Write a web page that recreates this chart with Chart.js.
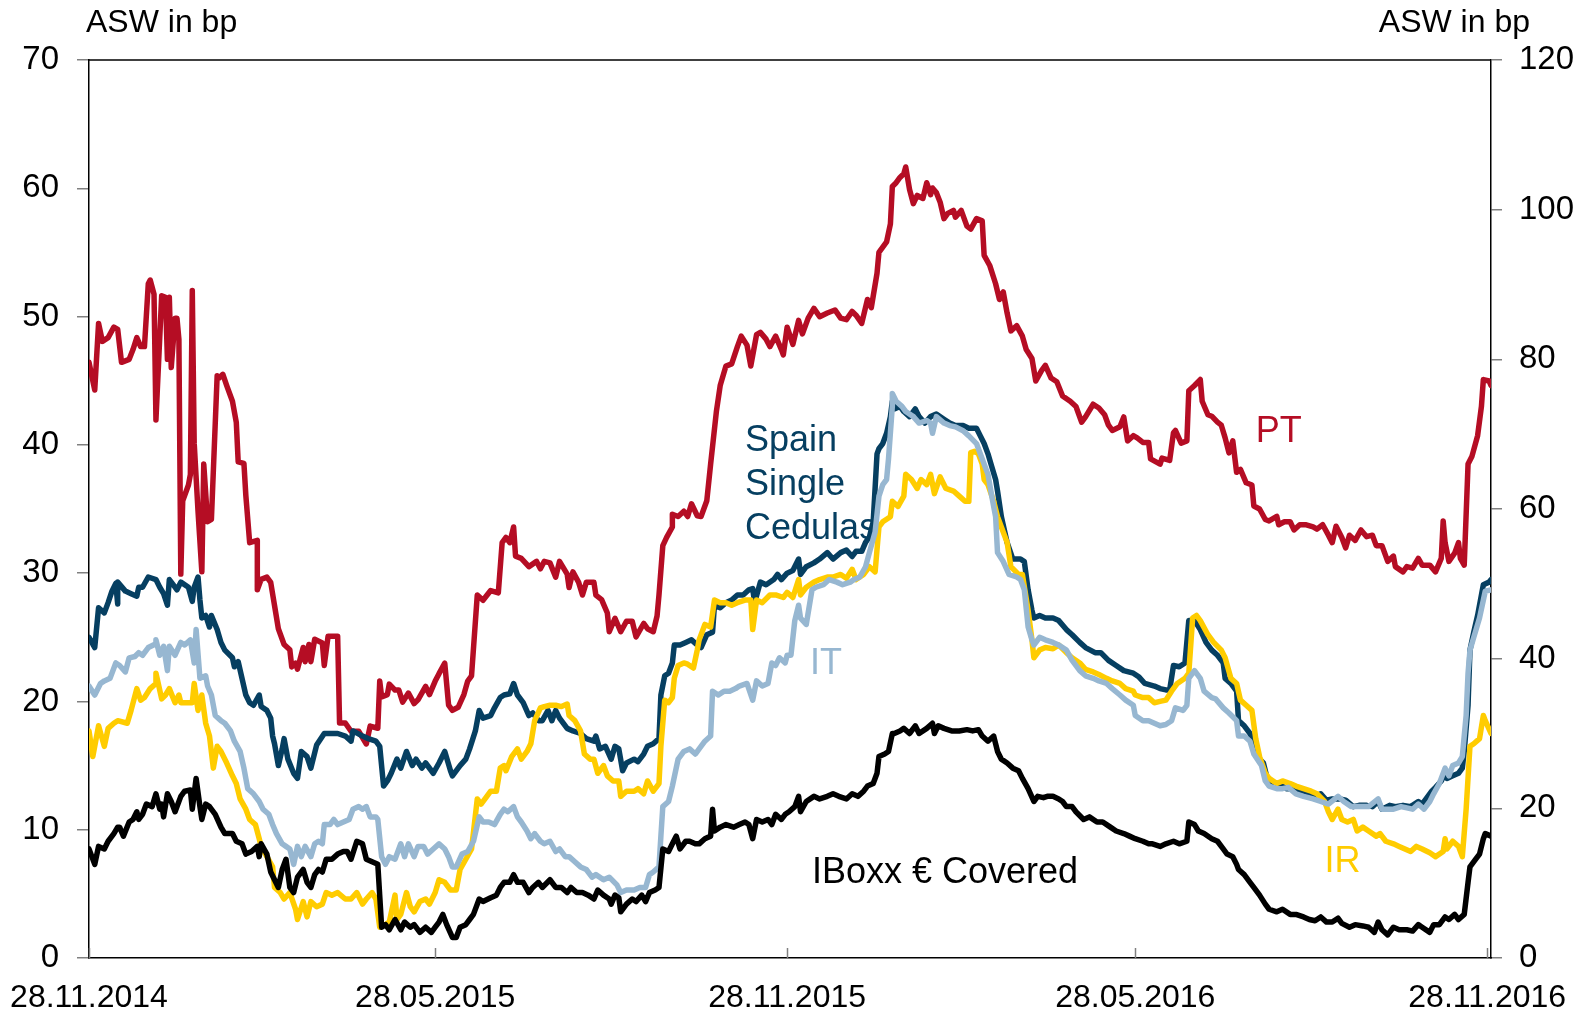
<!DOCTYPE html>
<html>
<head>
<meta charset="utf-8">
<title>ASW in bp</title>
<script src="https://cdn.jsdelivr.net/npm/chart.js@4.4.1/dist/chart.umd.min.js"></script>
<style>
  html, body { margin: 0; padding: 0; background: #fff; }
  #wrap { width: 1585px; height: 1016px; }
</style>
</head>
<body>
<div id="wrap"><canvas id="aswChart" width="1585" height="1016"></canvas></div>
<script>
// x values are days after 28.11.2014
const xTickLabels = ["28.11.2014", "28.05.2015", "28.11.2015", "28.05.2016", "28.11.2016"];
const xTickDays = [0, 181, 365, 547, 731];
const leftTicks = [0, 10, 20, 30, 40, 50, 60, 70];
const rightTicks = [0, 20, 40, 60, 80, 100, 120];

// PT, right axis
const ptSeries = [[0,79.6],[3,75.9],[5,84.8],[7,82.4],[10,82.9],[13,84.3],[15,84],[17,79.6],[21,80],[23,81.3],[25,82.9],[27,81.7],[29,81.7],[31,90.1],[32,90.6],[34,88.7],[35,71.9],[38,88.5],[40,88.3],[41,80],[42,88.3],[43,78.9],[45,85.5],[46,85.5],[47,82.7],[48,51.3],[49,61.1],[52,63.2],[53,64.6],[54,89.2],[55,68.8],[57,59.7],[59,51.6],[60,66],[62,58.3],[64,58.6],[67,77.8],[68,77.5],[70,78],[72,76.5],[75,74.4],[77,71.6],[78,66.3],[81,66.1],[82,61.8],[84,55.5],[88,55.8],[88,49.2],[90,50.6],[93,50.9],[95,50.2],[97,47.1],[99,44],[102,41.9],[105,41.2],[106,38.9],[108,39.4],[109,38.6],[112,41.5],[113,39.6],[115,41.9],[116,39.6],[118,42.6],[122,42.1],[123,39.1],[125,43],[130,43],[131,31.4],[134,31.4],[137,30.3],[141,30.3],[145,28.6],[147,31],[151,30.7],[152,37],[153,34.9],[156,35.2],[157,36.6],[160,35.8],[162,35.8],[164,34.2],[167,35.4],[170,34],[172,34.5],[176,36.3],[178,35.2],[181,37],[183,38],[186,39.4],[188,33.8],[190,33.1],[193,33.5],[196,35.2],[198,37],[200,37.7],[203,48.5],[206,47.8],[210,49.1],[214,48.8],[216,55.5],[218,56.2],[220,55.5],[222,57.6],[223,53.7],[226,53.4],[230,52.3],[234,53],[236,52],[238,53],[241,52.8],[244,50.9],[246,53],[250,51.3],[251,49.5],[253,51.6],[256,50.2],[258,48.5],[260,50.2],[264,50.2],[265,48.5],[268,47.9],[271,46.1],[272,43.6],[275,45.4],[278,43.6],[281,45],[284,45],[286,42.9],[290,44.7],[292,44],[295,43.6],[297,45.7],[298,48.5],[300,55.1],[302,56.2],[305,57.6],[305,59.3],[308,59],[311,59.7],[313,59],[315,60.7],[318,59.1],[320,59],[323,61.1],[325,66],[328,73],[330,76.5],[333,79.1],[336,79.4],[339,81.7],[341,83.1],[344,81.9],[346,79.1],[349,83.3],[351,83.6],[354,82.7],[356,81.7],[359,83.1],[362,81.3],[363,80.6],[365,84.3],[368,82],[371,85.2],[373,83.4],[376,85.5],[379,86.8],[382,85.7],[386,86.2],[390,86.6],[393,85.5],[396,85.3],[399,86.4],[401,85.9],[404,84.8],[407,88],[409,86.9],[412,91.5],[413,94.3],[417,95.7],[419,98.1],[420,103.1],[422,103.6],[424,104.3],[426,104.8],[427,105.7],[429,102.7],[431,100.8],[433,101.9],[436,101.5],[438,103.6],[440,102],[441,102.9],[443,102.3],[445,101],[447,98.8],[449,99.5],[452,99.9],[453,99],[456,99.9],[459,97.8],[461,97.4],[464,98.8],[467,98.5],[468,93.9],[471,92.5],[474,90.1],[476,88],[478,89],[480,86.2],[482,83.8],[485,84.5],[488,83.1],[490,81.3],[493,80.1],[495,77.1],[498,78.5],[500,79.2],[503,77.5],[506,77],[509,75.1],[513,74.4],[516,73.7],[519,71.6],[521,72.3],[525,74],[528,73.5],[531,72.6],[533,71.2],[535,70.5],[539,71],[541,72.3],[543,69.1],[546,69.8],[548,69.5],[551,68.9],[554,68.9],[555,66.7],[560,66],[561,66.8],[565,66.5],[567,70.2],[568,70.5],[571,68.8],[574,69.1],[575,75.8],[578,76.5],[581,77.3],[582,74.4],[585,72.6],[587,72.4],[590,71.6],[592,71.2],[594,69.5],[596,67.5],[598,69.1],[600,64.9],[602,65.3],[605,63.5],[608,63.2],[609,60.4],[612,60],[615,58.6],[617,58.4],[621,59],[622,57.9],[625,58.3],[628,58.3],[630,57.2],[633,57.9],[636,57.9],[640,57.6],[642,57.3],[645,57.9],[648,56.5],[650,55.5],[652,57.7],[655,56.2],[657,54.8],[659,56.5],[662,55.8],[665,57.2],[668,56.3],[671,56.5],[673,55.1],[676,55.1],[679,53],[682,53.7],[683,52.3],[687,51.6],[689,52.3],[692,52.1],[695,53.4],[697,52.5],[701,52.5],[704,51.6],[707,53.4],[708,58.4],[709,55.5],[711,53],[714,54.1],[716,55.5],[717,53.4],[719,52.5],[721,66],[723,67],[726,69.8],[728,73.7],[729,77.3],[732,77.1],[733,76.5]];

// Spain Single Cedulas, left axis
const spainSeries = [[0,25],[3,24.2],[5,27.3],[8,26.9],[10,27.7],[12,28.6],[14,29.2],[15,27.6],[15,29.3],[19,28.6],[22,28.4],[25,28.2],[26,28.9],[28,28.9],[31,29.7],[35,29.5],[37,28.9],[39,28.4],[41,27.5],[42,29.5],[44,29.1],[46,28.7],[48,29.3],[52,28.9],[54,27.8],[55,28.9],[57,29.7],[58,27.9],[59,26.5],[61,26.7],[63,25.8],[64,26.7],[67,25.6],[69,24.6],[71,24],[75,23.4],[76,22.7],[78,23.1],[80,21.8],[82,20.5],[84,19.9],[86,19.7],[89,20.5],[90,19.6],[93,19.3],[95,18.7],[96,17.3],[97,16.7],[99,15],[101,16.3],[102,17.1],[104,15.5],[107,14.4],[109,14],[111,16.1],[114,15.7],[116,14.8],[119,16.6],[123,17.5],[130,17.5],[134,17.3],[137,16.9],[138,17.7],[143,17.3],[146,17.1],[150,16.9],[152,16.5],[154,13.4],[156,13.8],[158,14.4],[161,15.5],[163,14.8],[166,16.1],[169,15],[171,15.5],[174,14.8],[176,15.2],[180,14.4],[183,15.2],[186,16.1],[189,14.6],[190,14.2],[194,15],[197,15.5],[199,16.3],[202,17.7],[204,19.3],[206,18.7],[210,18.9],[212,19.5],[215,20.3],[217,20.5],[220,20.6],[222,21.4],[224,20.5],[227,19.9],[230,18.9],[232,19.1],[235,18.5],[237,18.5],[240,19.3],[242,18.5],[244,19.3],[246,18.7],[250,17.9],[253,17.7],[257,17.5],[260,17.1],[264,16.9],[265,17.3],[267,16.3],[270,16.5],[273,15.5],[275,16.5],[277,16.3],[279,14.6],[281,15.2],[285,15.5],[287,15.3],[290,15.9],[292,16.5],[295,16.7],[298,17.1],[299,20.5],[301,22],[303,22.2],[305,23],[306,24.4],[309,24.4],[312,24.6],[315,24.8],[318,24.4],[320,24.2],[323,25.2],[326,25.4],[327,27.5],[330,27.3],[333,27.7],[336,27.9],[339,28.3],[342,28.3],[345,28.7],[347,28.8],[348,27.7],[351,29.3],[354,29.1],[358,29.5],[360,29.9],[362,29.5],[365,30],[368,30.2],[371,31.1],[372,29.9],[375,30.5],[379,30.8],[382,31.1],[386,31.6],[389,31.1],[393,31.6],[396,31.8],[399,31.3],[401,31.7],[404,31.7],[406,32.4],[408,32.8],[410,34],[412,39.3],[413,39.7],[415,40.1],[417,40.9],[419,42.2],[420,43.4],[421,42.8],[424,43],[426,42.6],[429,42.2],[432,42.8],[434,42.2],[437,41.7],[440,42.2],[443,42.4],[447,42],[450,41.7],[453,41.5],[457,41.5],[460,41.3],[464,41.3],[466,40.7],[468,40.1],[470,39.3],[472,38.3],[474,37.3],[475,36.4],[477,34.4],[480,32.4],[483,31.1],[487,31.1],[489,30.9],[491,28.7],[493,27.1],[494,26.5],[497,26.7],[500,26.5],[504,26.5],[507,26.3],[511,25.6],[514,25.2],[518,24.6],[521,24.2],[526,23.8],[529,23.8],[533,23.2],[537,22.8],[541,22.4],[546,22.2],[549,21.9],[552,21.4],[557,21.2],[560,21],[563,20.9],[565,20.9],[567,22.8],[570,22.7],[573,23],[575,26.3],[578,26.3],[581,25.6],[584,24.6],[587,24],[590,23.6],[593,23],[594,21.8],[597,21.4],[600,20.8],[601,18.5],[604,18.1],[607,17.5],[609,16.5],[612,15.5],[614,15.2],[616,14],[619,13.6],[622,13.6],[626,13.2],[629,13.2],[633,13],[637,12.8],[641,12.6],[644,12.8],[647,12.3],[650,12.4],[654,12.4],[657,12.3],[661,11.8],[664,11.9],[668,11.9],[671,11.8],[674,12.2],[676,11.6],[680,11.9],[683,11.8],[687,11.9],[691,11.8],[695,12.2],[697,12],[700,12.6],[702,13],[704,13.3],[707,13.8],[709,14.4],[710,14],[713,14.2],[716,14.4],[718,14.8],[719,16.1],[721,19.7],[722,24],[724,25.4],[726,26.7],[728,28.3],[729,29.1],[732,29.3],[733,29.5]];

// IT, left axis
const itSeries = [[0,21.2],[3,20.5],[6,21.4],[8,21.6],[11,21.8],[14,23],[16,22.8],[19,22.3],[21,23.4],[24,23.5],[26,23.8],[28,23.6],[31,24.2],[35,24.5],[35,24.8],[37,23.6],[39,24.3],[41,22.4],[42,24.3],[45,23.6],[48,24.6],[50,24.4],[53,24.8],[55,23],[56,25.6],[58,21.8],[61,22],[62,21.2],[64,20.5],[66,18.9],[69,18.5],[71,18.3],[74,17.7],[76,16.9],[79,16.1],[81,14.8],[83,13.2],[86,12.8],[89,12.2],[91,11.6],[94,11.2],[96,10.4],[98,9.7],[101,8.9],[103,8.7],[105,8.5],[107,7.3],[109,8.7],[111,7.9],[113,8.7],[116,7.9],[118,8.9],[120,9.1],[122,8.9],[123,10.4],[126,10.4],[128,10.8],[130,10.4],[133,10.6],[136,10.8],[138,11.6],[141,11.8],[143,11.6],[145,11.8],[147,11],[150,11],[151,10.8],[153,7.9],[155,7.3],[157,7.9],[160,7.7],[163,8.9],[165,7.9],[167,8.9],[170,7.9],[172,8.7],[175,8.7],[177,8.1],[180,8.5],[183,8.9],[186,8.5],[188,7.9],[190,7.1],[192,7.1],[195,8.1],[198,8.3],[201,9.1],[204,11],[206,10.6],[209,10.6],[212,10.4],[215,11.2],[217,11.6],[219,11.4],[222,11.8],[224,11],[226,10.6],[229,9.9],[231,9.3],[233,9.7],[236,9.1],[238,8.9],[241,9.1],[244,8.3],[246,8.5],[249,7.9],[251,7.9],[254,7.5],[257,7.1],[260,6.9],[263,6.3],[265,6.5],[269,6.1],[272,6.3],[276,5.7],[278,5.1],[281,5.3],[285,5.3],[288,5.5],[291,5.5],[293,6.5],[295,6.7],[298,7.1],[299,9.5],[300,11.8],[303,12.2],[305,13.4],[308,15.5],[311,16.1],[314,16.3],[317,15.9],[319,16.3],[322,16.9],[325,17.3],[326,20.8],[329,20.5],[332,20.8],[335,20.8],[338,21],[340,21.2],[344,21.4],[347,20.1],[349,21.6],[352,21.2],[355,21.4],[357,23],[359,22.8],[361,23.4],[364,23],[365,23.6],[367,23.6],[369,26.3],[371,27.5],[372,26.5],[375,26],[378,28.7],[380,28.9],[384,29.1],[387,29.5],[391,29.3],[394,29.1],[398,29.3],[400,29.5],[403,29.7],[406,30.5],[408,31.6],[411,33.2],[413,36],[415,36.9],[417,37.3],[418,38.9],[420,43],[420,44],[422,43.4],[425,43],[427,42.6],[431,42.2],[434,41.7],[438,41.9],[440,41.7],[441,40.9],[443,42.2],[447,41.7],[450,41.5],[453,41.4],[457,41.1],[460,40.7],[464,40.1],[467,38.9],[470,37.7],[472,36],[474,34.4],[475,31.6],[478,30.9],[481,29.9],[485,29.7],[487,29.5],[489,28.7],[491,25.8],[493,24.8],[494,24.4],[497,25],[500,24.8],[504,24.6],[507,24.4],[511,24],[514,23.2],[518,22.4],[521,22],[525,21.8],[528,21.6],[532,21.4],[535,21],[539,20.5],[542,20.1],[546,19.7],[547,18.9],[551,18.5],[554,18.5],[557,18.3],[560,18.1],[563,18.2],[566,18.5],[568,19.5],[572,19.3],[574,19.7],[575,21.8],[578,22.4],[581,21.8],[583,20.8],[587,20.3],[589,20.2],[593,19.5],[596,19.1],[600,18.5],[601,17.3],[604,17.3],[607,16.9],[609,15.9],[613,15],[615,13.8],[617,13.4],[621,13.2],[624,13.2],[627,13.3],[631,12.8],[635,12.6],[640,12.4],[644,12.2],[648,12],[653,12.6],[656,12.2],[660,11.8],[664,11.8],[669,11.8],[674,12.4],[676,11.6],[682,11.6],[686,11.8],[692,11.6],[695,12],[698,11.6],[701,12.2],[703,12.8],[706,13.6],[709,14.8],[711,14.2],[713,15],[716,15.2],[718,15.7],[720,18.9],[721,22.2],[722,24],[724,25],[727,26.5],[729,27.9],[730,28.6],[733,28.7]];

// IR, left axis
const irSeries = [[0,17.7],[2,15.7],[5,18.1],[8,16.5],[10,17.9],[13,18.3],[15,18.5],[20,18.3],[22,19.3],[25,21],[27,20.1],[29,20.3],[32,21],[35,21.4],[35,22.2],[38,20.2],[40,20.5],[42,21],[45,19.9],[47,20.5],[48,19.9],[52,19.9],[54,19.9],[55,21.4],[57,19.3],[59,20.5],[61,18.3],[63,17.3],[65,14.8],[67,16.5],[69,16.1],[72,15.2],[75,14.2],[77,13.6],[79,12.4],[82,11.6],[84,10.8],[87,10.4],[89,9.3],[90,8.7],[93,7.9],[96,7.1],[97,5.5],[100,5.1],[102,4.6],[105,5.1],[108,3.8],[109,3],[112,4.4],[114,3.2],[116,4.4],[119,4],[122,4.2],[124,5.1],[127,4.9],[130,5.1],[134,4.6],[137,4.6],[140,5.1],[143,4.2],[145,4.6],[148,5.1],[150,4.6],[152,2.4],[155,2.6],[157,2.8],[160,4.9],[161,3],[163,3.4],[166,5.1],[168,4],[170,3.6],[173,4.4],[176,4.6],[178,4.2],[181,5.1],[183,6.1],[186,5.9],[189,5.3],[192,5.3],[194,6.9],[197,7.7],[200,8.5],[203,12.4],[205,12],[208,12.6],[210,13],[213,13],[215,14.8],[217,15],[218,14.6],[221,15.7],[224,16.3],[226,15.5],[229,16.1],[231,16.7],[233,18.5],[236,19.5],[238,19.6],[241,19.7],[244,19.7],[247,19.6],[250,19.8],[251,18.9],[254,18.5],[257,17.7],[259,15.9],[262,15.5],[264,15.5],[266,14.4],[269,15],[271,14.2],[274,13.8],[277,13.8],[278,12.6],[281,13],[285,13],[287,13.2],[290,12.8],[292,13.8],[295,13],[298,13.6],[299,16.5],[301,20.1],[303,19.9],[305,20.3],[306,21.8],[308,22.8],[311,23],[313,22.9],[316,22.6],[318,24],[319,24.8],[322,26],[325,25.8],[327,27.9],[330,27.7],[333,27.7],[336,27.5],[339,27.7],[343,27.9],[346,27.9],[347,25.6],[349,27.9],[352,27.7],[356,28.3],[359,28.3],[363,28.1],[365,28.5],[368,28.1],[371,29.5],[372,28.3],[375,28.9],[379,29.3],[382,29.5],[386,29.7],[389,29.7],[393,29.9],[396,29.6],[399,30.3],[401,29.5],[405,29.9],[408,30.5],[411,30.1],[413,33.6],[415,34],[419,34.4],[420,35.6],[423,35.2],[426,36],[427,37.7],[430,37.3],[433,36.6],[435,37.3],[438,36.9],[440,37.7],[442,36.2],[445,37.5],[448,36.6],[452,36.4],[455,36],[458,35.6],[460,35.6],[461,39.4],[463,39.5],[465,39.3],[467,38.5],[468,37.3],[470,36.9],[473,35.6],[475,34.4],[477,33.6],[480,32.4],[482,30.5],[486,29.9],[488,29.9],[491,27.1],[493,24.8],[494,23.4],[497,24],[500,24.2],[504,24.1],[507,24.4],[511,23.8],[514,23.4],[518,23],[521,22.5],[525,22.3],[528,22.1],[532,21.8],[535,21.6],[539,21.4],[542,21],[546,20.8],[547,20.5],[551,20.3],[554,20.3],[557,19.9],[560,20],[563,20.1],[566,20.8],[569,21.4],[573,21.8],[575,22.2],[577,26.5],[579,26.7],[581,26.3],[585,25.2],[588,24.6],[592,24],[594,23.4],[597,21.8],[600,21.4],[602,20.1],[605,19.7],[608,19.3],[610,17.1],[612,15.7],[615,14.4],[617,14],[621,13.6],[624,13.8],[628,13.6],[631,13.4],[635,13.2],[639,13],[642,12.8],[646,12.2],[648,11.4],[650,10.8],[653,11.6],[655,10.8],[658,10.6],[661,10.8],[663,9.9],[666,10.2],[669,9.9],[673,9.5],[675,9.7],[678,9.1],[682,8.9],[685,8.7],[688,8.5],[691,8.3],[694,8.7],[697,8.5],[701,8.2],[704,7.9],[708,8.3],[709,9.3],[710,8.5],[713,9.1],[716,8.7],[718,7.9],[720,11.6],[722,16.5],[724,16.7],[727,17.1],[729,18.9],[730,18.5],[733,17.5]];

// IBoxx EUR Covered, left axis
const iboxxSeries = [[0,8.5],[3,7.3],[5,8.7],[8,8.5],[10,9.1],[13,9.7],[15,10.2],[16,10.2],[18,9.5],[21,10.6],[23,10.8],[25,11.4],[26,10.8],[28,11.2],[30,12],[33,11.8],[35,12.8],[37,11.6],[38,12],[39,11],[41,12.8],[43,12.2],[45,11.4],[48,12.6],[50,13],[53,13.1],[54,11.6],[55,12.8],[56,14],[58,11.8],[59,10.8],[61,12],[63,11.8],[66,11.2],[69,10.2],[71,9.7],[73,9.7],[75,9.7],[77,9.1],[80,8.9],[82,8.1],[85,8.3],[88,8.7],[89,7.9],[90,8.9],[93,8.1],[95,6.7],[97,6.1],[99,5.5],[101,6.9],[103,7.7],[105,5.5],[107,5.1],[109,6.3],[112,6.9],[114,5.9],[116,5.5],[118,6.5],[120,6.9],[122,6.7],[124,7.7],[127,7.7],[130,8.1],[133,8.3],[135,8.3],[137,7.7],[140,9.1],[143,8.9],[145,7.7],[148,7.5],[151,7.3],[153,2.4],[155,2.6],[157,2.2],[160,3],[163,2.2],[165,2.8],[168,2.4],[170,2.6],[173,2],[176,2.4],[179,2],[181,2.4],[183,2.8],[185,3.4],[187,2.6],[190,1.6],[192,1.6],[194,2.4],[197,2.6],[199,3],[201,3.4],[204,4.6],[206,4.4],[210,4.7],[213,4.9],[215,5.5],[217,5.9],[220,5.9],[222,6.5],[224,5.9],[227,5.9],[230,5.1],[232,5.5],[235,5.9],[237,5.5],[241,6.1],[244,5.5],[247,5.5],[250,5.1],[252,5.5],[255,5.1],[258,5.1],[261,4.9],[264,4.6],[266,5.3],[269,4.9],[272,4.6],[273,4.2],[275,4.9],[277,4.7],[278,3.6],[281,4.2],[284,4.6],[286,4.4],[289,4.9],[291,4.4],[293,5.1],[296,5.3],[298,5.5],[300,8.5],[303,8.3],[305,8.9],[307,9.5],[309,8.5],[312,9.1],[314,9.1],[317,8.9],[319,8.9],[322,9.3],[325,9.5],[326,11.6],[327,9.9],[330,10.2],[333,10.4],[337,10.2],[340,10.4],[343,10.6],[345,10.4],[347,9.3],[349,10.8],[352,10.6],[355,10.8],[357,10.4],[359,11.2],[362,10.8],[364,11.2],[366,11.4],[369,11.8],[371,12.6],[372,11.4],[375,12.2],[379,12.6],[382,12.4],[386,12.6],[389,12.8],[392,12.6],[396,12.4],[399,12.8],[402,12.6],[405,13],[407,13.4],[410,13.6],[412,14.4],[413,15.7],[416,15.9],[418,16.1],[420,17.5],[421,17.5],[424,17.7],[426,17.9],[429,17.5],[432,18.1],[434,17.5],[438,17.9],[441,18.3],[442,17.5],[444,18.1],[447,17.9],[451,17.7],[455,17.7],[459,17.8],[462,17.7],[465,17.8],[467,17.3],[470,16.9],[473,17.3],[475,16.1],[477,15.5],[480,15.2],[483,14.8],[486,14.6],[488,14],[491,13.2],[494,12.2],[496,12.6],[499,12.5],[501,12.6],[504,12.6],[507,12.4],[509,12.2],[511,11.8],[514,11.8],[516,11.4],[520,10.8],[523,11],[527,10.6],[530,10.6],[534,10.2],[537,9.9],[541,9.7],[544,9.5],[547,9.3],[551,9.1],[554,8.9],[556,8.9],[560,8.7],[563,8.9],[567,9.1],[570,8.9],[574,9.1],[575,10.6],[578,10.4],[580,9.9],[583,9.7],[587,9.3],[590,9.1],[593,8.5],[595,8.1],[598,7.9],[600,7.3],[601,6.9],[604,6.5],[607,5.9],[609,5.5],[612,4.9],[615,4.2],[617,3.8],[621,3.6],[624,3.8],[628,3.4],[631,3.4],[635,3.2],[638,3],[641,2.9],[644,3.2],[647,2.8],[650,2.8],[653,3.1],[655,2.7],[659,2.4],[662,2.6],[666,2.5],[669,2.4],[672,2],[674,2.8],[676,2.2],[679,1.8],[682,2.4],[685,2.2],[689,2.2],[692,2.1],[695,2.6],[697,2.4],[701,2],[703,2.6],[706,2.6],[709,3.2],[711,3],[714,3.4],[716,3],[719,3.4],[721,5.9],[722,7.1],[725,7.7],[727,8.1],[729,9.3],[730,9.7],[733,9.5]];

// in-plot labels, anchored in data units (day, left-axis value)
const seriesLabels = [
  { lines: ["Spain", "Single", "Cedulas"], day: 343, value: 39.5, color: "#063f61" },
  { lines: ["PT"], day: 610, value: 40.2, color: "#b50d24" },
  { lines: ["IT"], day: 377, value: 22.1, color: "#97b7d1" },
  { lines: ["IR"], day: 646, value: 6.7, color: "#ffcc00" },
  { lines: ["IBoxx € Covered"], day: 378, value: 5.85, color: "#000000" }
];

const toPoints = arr => arr.map(p => ({ x: p[0], y: p[1] }));
const FONT = "'Liberation Sans', Arial, Helvetica, sans-serif";
Chart.defaults.font.family = FONT;
Chart.defaults.color = "#000";

function line(label, series, color, axis) {
  return {
    label: label,
    data: toPoints(series),
    yAxisID: axis,
    borderColor: color,
    backgroundColor: color,
    borderWidth: 5.5,
    borderJoinStyle: "round",
    borderCapStyle: "round",
    pointRadius: 0,
    tension: 0,
    fill: false
  };
}

const decorations = {
  id: "decorations",
  beforeDatasetsDraw(chart) {
    const { ctx, scales } = chart;
    ctx.save();
    ctx.font = "36px " + FONT;
    ctx.textAlign = "left";
    ctx.textBaseline = "alphabetic";
    seriesLabels.forEach(lab => {
      const x = scales.x.getPixelForValue(lab.day);
      const y = scales.yLeft.getPixelForValue(lab.value);
      ctx.fillStyle = lab.color;
      lab.lines.forEach((t, i) => ctx.fillText(t, x, y + i * 44));
    });
    ctx.restore();
  },
  afterDraw(chart) {
    const { ctx, chartArea: area, scales } = chart;
    ctx.save();
    // top frame line
    ctx.strokeStyle = "#000";
    ctx.lineWidth = 1.5;
    ctx.beginPath();
    ctx.moveTo(area.left, area.top);
    ctx.lineTo(area.right, area.top);
    ctx.stroke();
    // date ticks point into the plot
    ctx.strokeStyle = "#808080";
    xTickDays.forEach(d => {
      const x = Math.round(scales.x.getPixelForValue(d)) + 0.5;
      ctx.beginPath();
      ctx.moveTo(x, area.bottom);
      ctx.lineTo(x, area.bottom - 10);
      ctx.stroke();
    });
    // unit titles above both axes
    ctx.fillStyle = "#000";
    ctx.font = "32px " + FONT;
    ctx.textBaseline = "alphabetic";
    ctx.textAlign = "left";
    ctx.fillText("ASW in bp", area.left - 3, area.top - 28);
    ctx.textAlign = "right";
    ctx.fillText("ASW in bp", area.right + 39, area.top - 28);
    ctx.restore();
  }
};

new Chart(document.getElementById("aswChart"), {
  type: "line",
  data: {
    datasets: [
      line("IBoxx € Covered", iboxxSeries, "#000000", "yLeft"),
      line("IT", itSeries, "#97b7d1", "yLeft"),
      line("IR", irSeries, "#ffcc00", "yLeft"),
      line("Spain Single Cedulas", spainSeries, "#063f61", "yLeft"),
      line("PT", ptSeries, "#b50d24", "yRight")
    ]
  },
  options: {
    responsive: false,
    devicePixelRatio: 1,
    animation: false,
    events: [],
    layout: { padding: { top: 60, left: 0, right: 0, bottom: 0 } },
    plugins: { legend: { display: false }, tooltip: { enabled: false } },
    scales: {
      x: {
        type: "linear",
        min: 0,
        max: 733,
        afterBuildTicks: s => { s.ticks = xTickDays.map(v => ({ value: v })); },
        afterFit: s => { s.height = 58; s.paddingLeft = 0; s.paddingRight = 0; },
        ticks: {
          autoSkip: false,
          maxRotation: 0,
          minRotation: 0,
          padding: 21,
          font: { size: 32 },
          callback: (v, i) => xTickLabels[i]
        },
        grid: { drawOnChartArea: false, drawTicks: false },
        border: { display: true, color: "#000", width: 1.5 }
      },
      yLeft: {
        position: "left",
        min: 0,
        max: 70,
        afterBuildTicks: s => { s.ticks = leftTicks.map(v => ({ value: v })); },
        afterFit: s => { s.width = 89; s.paddingTop = 0; s.paddingBottom = 0; },
        ticks: { padding: 18, font: { size: 33 } },
        grid: { drawOnChartArea: false, drawTicks: true, tickLength: 12, color: "#808080", lineWidth: 1.5 },
        border: { display: true, color: "#000", width: 1.5 }
      },
      yRight: {
        position: "right",
        min: 0,
        max: 120,
        afterBuildTicks: s => { s.ticks = rightTicks.map(v => ({ value: v })); },
        afterFit: s => { s.width = 94; s.paddingTop = 0; s.paddingBottom = 0; },
        ticks: { padding: 17, font: { size: 33 } },
        grid: { drawOnChartArea: false, drawTicks: true, tickLength: 11, color: "#808080", lineWidth: 1.5 },
        border: { display: true, color: "#000", width: 1.5 }
      }
    }
  },
  plugins: [decorations]
});
</script>
</body>
</html>
